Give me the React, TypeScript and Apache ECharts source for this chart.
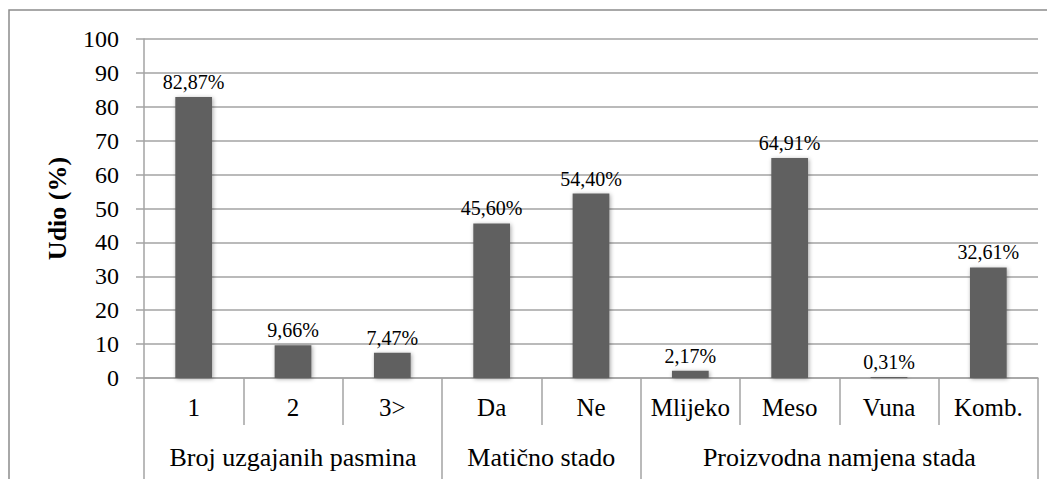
import React, { useEffect, useRef } from "react";
import * as echarts from "echarts";

const categories = ["1", "2", "3>", "Da", "Ne", "Mlijeko", "Meso", "Vuna", "Komb."];
const values = [82.87, 9.66, 7.47, 45.6, 54.4, 2.17, 64.91, 0.31, 32.61];
const groupNames = ["Broj uzgajanih pasmina", "Matično stado", "Proizvodna namjena stada"];
const groupSpans = [3, 2, 4];
const yTicks = [0, 10, 20, 30, 40, 50, 60, 70, 80, 90, 100];

const FONT = "'Liberation Serif', 'Times New Roman', serif";
const GRID = "#a3a3a3";

export default function App() {
  const ref = useRef<HTMLDivElement>(null);
  useEffect(() => {
    if (!ref.current) return;
    const chart = echarts.init(ref.current, null, { renderer: "svg" });

    const bounds: number[] = [0];
    const centers: number[] = [];
    let acc = 0;
    groupSpans.forEach((s) => {
      centers.push(acc + s / 2);
      acc += s;
      bounds.push(acc);
    });

    chart.setOption({
      animation: false,
      graphic: [
        {
          type: "rect",
          shape: { x: 1, y: 2, width: 1100, height: 600 },
          style: { fill: "none", stroke: "#8c8c8c", lineWidth: 1.5 },
          silent: true,
        },
      ],
      grid: { left: 136, top: 31, width: 894, height: 339, containLabel: false },
      xAxis: [
        {
          type: "category",
          data: categories,
          boundaryGap: true,
          axisLine: { show: true, lineStyle: { color: GRID, width: 1.5 } },
          axisTick: { show: true, interval: 0, length: 47, lineStyle: { color: GRID, width: 1.5 } },
          axisLabel: { interval: 0, margin: 17, fontFamily: FONT, fontSize: 25, color: "#000" },
          splitLine: { show: false },
        },
        {
          type: "value",
          min: 0,
          max: categories.length,
          position: "bottom",
          offset: 47,
          axisLine: { show: false },
          splitLine: { show: false },
          axisTick: { show: true, customValues: bounds, length: 60, lineStyle: { color: GRID, width: 1.5 } },
          axisLabel: {
            customValues: centers,
            margin: 19,
            fontFamily: FONT,
            fontSize: 26,
            color: "#000",
            formatter: (v: number) => {
              const i = centers.findIndex((c) => Math.abs(c - v) < 1e-6);
              return i >= 0 ? groupNames[i] : "";
            },
          },
        },
      ],
      yAxis: {
        type: "value",
        min: yTicks[0],
        max: yTicks[yTicks.length - 1],
        interval: 10,
        name: "Udio (%)",
        nameLocation: "middle",
        nameGap: 74,
        nameTextStyle: { fontFamily: FONT, fontSize: 26, fontWeight: "bold", color: "#000" },
        axisLine: { show: true, lineStyle: { color: GRID, width: 1.5 } },
        axisTick: { show: true, length: 8, lineStyle: { color: GRID, width: 1.5 } },
        axisLabel: { margin: 25, fontFamily: FONT, fontSize: 24, color: "#000" },
        splitLine: { show: true, lineStyle: { color: GRID, width: 1.5 } },
      },
      series: [
        {
          type: "bar",
          data: values,
          barWidth: "37%",
          itemStyle: {
            color: "#606060",
            shadowBlur: 4,
            shadowColor: "rgba(0,0,0,0.35)",
            shadowOffsetX: 1,
            shadowOffsetY: 1,
          },
          label: {
            show: true,
            position: "top",
            distance: 5,
            fontFamily: FONT,
            fontSize: 20,
            color: "#000",
            formatter: (p: any) => p.value.toFixed(2).replace(".", ",") + "%",
          },
        },
      ],
    });
    return () => chart.dispose();
  }, []);
  return <div ref={ref} style={{ width: 1047, height: 471 }} />;
}
